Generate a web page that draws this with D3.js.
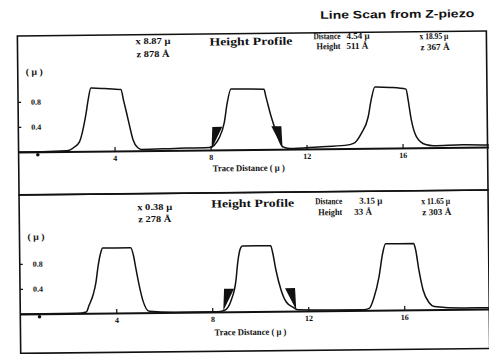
<!DOCTYPE html>
<html>
<head>
<meta charset="utf-8">
<script src="https://d3js.org/d3.v7.min.js"></script>
<style>
  body { margin: 0; background: #fff; }
  svg text { font-family: "Liberation Serif", serif; font-weight: bold; fill: #111; }
  .axis path { stroke: #111; stroke-width: 2; }
  .axis line { stroke: #111; stroke-width: 1.2; }
  .axis text { font-family: "Liberation Serif", serif; font-size: 8px; font-weight: bold; fill: #111; }
</style>
</head>
<body>
<div class="chart"></div>
<script>
var title = "Line Scan from Z-piezo";
var xTicks = [4, 8, 12, 16];
var yTicks = [0.4, 0.8];
var yTickLabels = ["0.4", "0.8"];
var originDot = [0.8];

// upper scan
var topX = [0, 1, 2.0, 2.33, 2.54, 2.67, 2.75, 2.83, 2.92, 3.04, 3.6, 4.29, 4.4, 4.52, 4.64, 4.77, 4.96, 5.12, 6.5, 7.96,
            8.375, 8.58, 8.71, 8.875, 9.6, 10.25, 10.33, 10.54, 10.75, 11.0, 11.3, 12.5, 13.6, 13.96, 14.29, 14.58, 14.71, 14.875, 15.5, 16.17,
            16.25, 16.375, 16.58, 16.96, 17.3, 18.5, 19.6];
var topY = [0, 0, 0.01, 0.07, 0.15, 0.31, 0.45, 0.61, 0.82, 1.01, 1.0, 0.98, 0.8, 0.6, 0.39, 0.18, 0.05, 0.02, 0.03, 0.04,
            0.2, 0.43, 0.74, 0.97, 0.97, 0.96, 0.84, 0.52, 0.27, 0.04, 0.01, 0.03, 0.05, 0.08, 0.24, 0.5, 0.77, 0.98, 0.97, 0.94,
            0.77, 0.45, 0.18, 0.05, 0.03, 0.04, 0.03];
var topCursors = [8.04, 11.0];
var topCursor1 = ["x 8.87 μ", "z 878 Å"];
var topMeasure = ["4.54 μ", "511 Å"];
var topCursor2 = ["x 18.95 μ", "z 367 Å"];

// lower scan
var botX = [0, 1, 2.4, 2.75, 2.875, 3.04, 3.17, 3.25, 3.375, 3.46, 4.0, 4.625, 4.75, 4.83, 4.96, 5.125, 5.375, 6.5, 8.2, 8.5,
            8.79, 9.0, 9.08, 9.21, 9.29, 9.9, 10.46, 10.54, 10.67, 10.875, 11.08, 11.375, 11.58, 13, 14.3, 14.54, 14.75, 14.96, 15.125, 15.25,
            15.8, 16.42, 16.5, 16.625, 16.79, 17.04, 17.25, 18.5, 19.6];
var botY = [0, 0, 0, 0.02, 0.13, 0.29, 0.5, 0.72, 0.96, 1.04, 1.04, 1.04, 0.9, 0.72, 0.45, 0.18, 0.02, 0, 0, 0.02,
            0.18, 0.5, 0.78, 1.02, 1.05, 1.05, 1.05, 0.94, 0.66, 0.34, 0.15, 0.06, 0.02, 0.01, 0.01, 0.03, 0.21, 0.53, 0.91, 1.06,
            1.06, 1.06, 0.96, 0.64, 0.32, 0.11, 0.05, 0.02, 0.02];
var botCursors = [8.46, 11.5];
var botCursor1 = ["x 0.38 μ", "z 278 Å"];
var botMeasure = ["3.15 μ", "33 Å"];
var botCursor2 = ["x 11.65 μ", "z 303 Å"];

var w = 489, h = 354;
var left = 19, right = 488;

var panels = [
  {top: 33.5, bottom: 192.5, base: 149.5, xs: topX, ys: topY, cursors: topCursors,
   c1: topCursor1, m: topMeasure, c2: topCursor2,
   c1y: [43, 56], hpY: 45, dY: [40, 50], c2y: [41, 52], muY: 72.5, traceY: 171},
  {top: 192.5, bottom: 351, base: 311.5, xs: botX, ys: botY, cursors: botCursors,
   c1: botCursor1, m: botMeasure, c2: botCursor2,
   c1y: [209, 221], hpY: 207, dY: [205, 216], c2y: [206, 217], muY: 237.5, traceY: 335}
];

var xScale = d3.scaleLinear().domain([0, 19.6]).range([left, left + 24 * 19.6]);

var svg = d3.select("div.chart").append("svg")
  .attr("width", w).attr("height", h);
svg.append("rect").attr("width", w).attr("height", h).attr("fill", "#fff");

var g = svg.append("g").attr("transform", "rotate(-0.6, 250, 190)");

g.append("text")
  .attr("x", 322).attr("y", 19.5)
  .attr("textLength", 154).attr("lengthAdjust", "spacingAndGlyphs")
  .style("font-family", "'Liberation Sans', sans-serif")
  .style("font-size", "11px")
  .text(title);

var line = d3.line().curve(d3.curveMonotoneX);

panels.forEach(function(p, i) {
  var yScale = d3.scaleLinear().domain([0, 0.8]).range([p.base, p.base - 50]);

  // frame
  g.append("rect")
    .attr("x", left).attr("y", p.top)
    .attr("width", right - left).attr("height", p.bottom - p.top)
    .attr("fill", "none").attr("stroke", "#111").attr("stroke-width", 1.6);

  // x axis on the zero line
  g.append("g").attr("class", "axis")
    .attr("transform", "translate(0," + yScale(0) + ")")
    .call(d3.axisBottom(xScale).tickValues(xTicks).tickSize(-4).tickSizeOuter(0).tickPadding(4.5));

  // y axis inside the frame
  var ya = g.append("g").attr("class", "axis")
    .attr("transform", "translate(" + left + ",0)")
    .call(d3.axisRight(yScale).tickValues(yTicks).tickSize(3).tickPadding(10)
      .tickFormat(function(d, k) { return yTickLabels[k]; }));
  ya.select(".domain").remove();

  g.selectAll(null).data(originDot).enter().append("circle")
    .attr("cx", function(d) { return xScale(d); })
    .attr("cy", yScale(0) + 3)
    .attr("r", 1.8).attr("fill", "#111");

  // cursor flags
  g.selectAll(null).data(p.cursors).enter().append("path")
    .attr("fill", "#111")
    .attr("d", function(c, k) {
      var cx = xScale(c), cy = yScale(0) - 1, ty = yScale(0) - 23;
      if (k === 0) return "M" + cx + "," + cy + "L" + (cx + 1) + "," + ty + "L" + (cx + 11) + "," + ty + "Z";
      return "M" + cx + "," + cy + "L" + (cx - 11) + "," + ty + "L" + (cx - 1) + "," + ty + "Z";
    });

  // profile
  var pts = d3.zip(p.xs, p.ys).map(function(d) { return [xScale(d[0]), yScale(d[1])]; });
  g.append("path")
    .attr("fill", "none").attr("stroke", "#111").attr("stroke-width", 1.5)
    .attr("d", line(pts));

  // texts
  g.append("text").attr("x", 137).attr("y", p.c1y[0]).style("font-size", "9px")
    .attr("textLength", 35).attr("lengthAdjust", "spacingAndGlyphs").text(p.c1[0]);
  g.append("text").attr("x", 138).attr("y", p.c1y[1]).style("font-size", "9px")
    .attr("textLength", 33).attr("lengthAdjust", "spacingAndGlyphs").text(p.c1[1]);

  g.append("text").attr("x", 211).attr("y", p.hpY).style("font-size", "11px")
    .attr("textLength", 83).attr("lengthAdjust", "spacingAndGlyphs").text("Height Profile");

  g.append("text").attr("x", 315).attr("y", p.dY[0]).style("font-size", "9px")
    .attr("textLength", 27).attr("lengthAdjust", "spacingAndGlyphs").text("Distance");
  g.append("text").attr("x", 318).attr("y", p.dY[1]).style("font-size", "9px")
    .attr("textLength", 24).attr("lengthAdjust", "spacingAndGlyphs").text("Height");
  g.append("text").attr("x", i === 0 ? 348 : 359).attr("y", p.dY[0]).style("font-size", "9px")
    .text(p.m[0]);
  g.append("text").attr("x", i === 0 ? 348 : 354).attr("y", p.dY[1]).style("font-size", "9px")
    .text(p.m[1]);

  g.append("text").attr("x", 421).attr("y", p.c2y[0]).style("font-size", "9px")
    .attr("textLength", 29).attr("lengthAdjust", "spacingAndGlyphs").text(p.c2[0]);
  g.append("text").attr("x", 422).attr("y", p.c2y[1]).style("font-size", "9px")
    .attr("textLength", 29).attr("lengthAdjust", "spacingAndGlyphs").text(p.c2[1]);

  g.append("text").attr("x", 27).attr("y", p.muY).style("font-size", "9px")
    .attr("textLength", 17).attr("lengthAdjust", "spacingAndGlyphs").text("( μ )");

  g.append("text").attr("x", 213).attr("y", p.traceY).style("font-size", "9px")
    .attr("textLength", 72).attr("lengthAdjust", "spacingAndGlyphs").text("Trace Distance ( μ )");
});
</script>
</body>
</html>
